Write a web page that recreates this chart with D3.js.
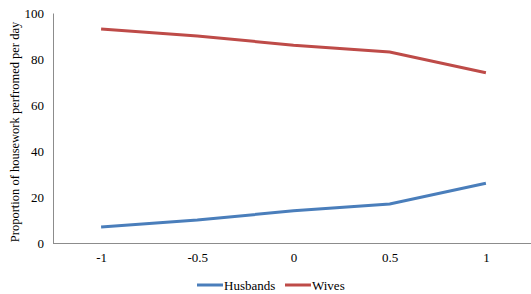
<!DOCTYPE html>
<html lang="en">
<head>
  <meta charset="UTF-8">
  <style>
    body { margin: 0; background: #fff; }
  </style>
  <script src="https://d3js.org/d3.v7.min.js"></script>
</head>
<body>
<svg id="chart"></svg>
<script>
const categories = ['-1', '-0.5', '0', '0.5', '1'];
const husbands = [7, 10, 14, 17, 26];
const wives = [93, 90, 86, 83, 74];
const yTicks = [0, 20, 40, 60, 80, 100];

const font = "'Liberation Serif'";
const size = {width: 531, height: 294};
const svg = d3.select('#chart')
              .attr('width', size.width)
              .attr('height', size.height);

const xScale = d3.scalePoint()
                  .domain(categories)
                  .range([53, 534])
                  .padding(0.5);
const yScale = d3.scaleLinear()
                  .domain([0, 100])
                  .range([243, 13]);

// y axis
const yAxis = svg.append('g')
    .attr('transform', 'translate(53,0)')
    .call(d3.axisLeft(yScale).tickValues(yTicks).tickSize(0).tickPadding(9));
yAxis.select('.domain').attr('stroke', '#8c8c8c').attr('stroke-width', 1);

// x axis
const xAxis = svg.append('g')
    .attr('transform', 'translate(0,243)')
    .call(d3.axisBottom(xScale).tickSize(0).tickPadding(10));
xAxis.select('.domain').attr('d', 'M53,0.5H531').attr('stroke', '#8c8c8c');

svg.selectAll('.tick text')
    .attr('fill', '#000')
    .style('font-family', font)
    .style('font-size', '13px');

const series = [
  {name: 'Husbands', values: husbands, color: '#4a7ebb'},
  {name: 'Wives', values: wives, color: '#be4b48'}
];

const line = d3.line()
    .x(function(d, i) { return xScale(categories[i]); })
    .y(function(d) { return yScale(d); });

svg.selectAll('.series')
    .data(series)
    .enter()
    .append('path')
    .attr('class', 'series')
    .attr('fill', 'none')
    .attr('stroke', function(d) { return d.color; })
    .attr('stroke-width', 3)
    .attr('d', function(d) { return line(d.values); });

// y title
svg.append('text')
    .attr('transform', 'translate(19,132) rotate(-90)')
    .attr('text-anchor', 'middle')
    .style('font-family', font)
    .style('font-size', '12.5px')
    .text('Proportion of housework perfromed per day');

// legend
const legendX = [197, 285];
const legend = svg.selectAll('.legend')
    .data(series)
    .enter()
    .append('g')
    .attr('class', 'legend')
    .attr('transform', function(d, i) { return 'translate(' + legendX[i] + ',285)'; });
legend.append('line')
    .attr('x1', 0).attr('x2', 26)
    .attr('stroke', function(d) { return d.color; })
    .attr('stroke-width', 3);
legend.append('text')
    .attr('x', 27)
    .attr('dy', '0.35em')
    .style('font-family', font)
    .style('font-size', '13px')
    .text(function(d) { return d.name; });
</script>
</body>
</html>
